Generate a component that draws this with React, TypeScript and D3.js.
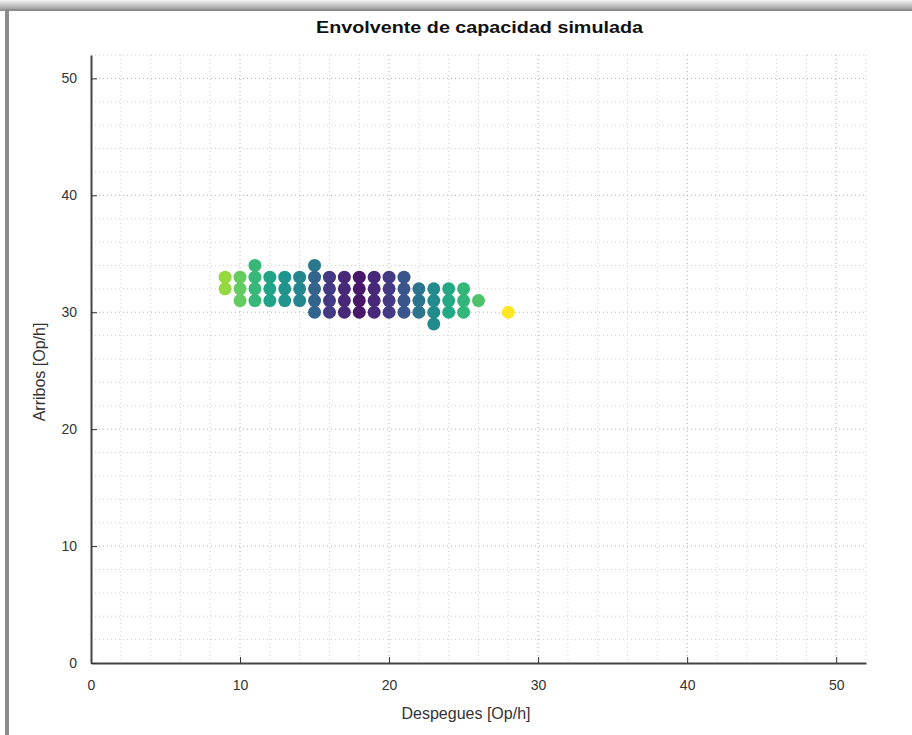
import { useRef, useEffect } from "react";
import * as d3 from "d3";

// Despegues (x), Arribos (y) and colour value for each simulated point
const despegues = [
  9, 9,
  10, 10, 10,
  11, 11, 11, 11,
  12, 12, 12,
  13, 13, 13,
  14, 14, 14,
  15, 15, 15, 15, 15,
  16, 16, 16, 16,
  17, 17, 17, 17,
  18, 18, 18, 18,
  19, 19, 19, 19,
  20, 20, 20, 20,
  21, 21, 21, 21,
  22, 22, 22,
  23, 23, 23, 23,
  24, 24, 24,
  25, 25, 25,
  26,
  28,
];
const arribos = [
  33, 32,
  33, 32, 31,
  34, 33, 32, 31,
  33, 32, 31,
  33, 32, 31,
  33, 32, 31,
  34, 33, 32, 31, 30,
  33, 32, 31, 30,
  33, 32, 31, 30,
  33, 32, 31, 30,
  33, 32, 31, 30,
  33, 32, 31, 30,
  33, 32, 31, 30,
  32, 31, 30,
  32, 31, 30, 29,
  32, 31, 30,
  32, 31, 30,
  31,
  30,
];
const valor = [
  0.84, 0.84,
  0.76, 0.76, 0.76,
  0.67, 0.67, 0.67, 0.67,
  0.58, 0.58, 0.58,
  0.52, 0.52, 0.52,
  0.46, 0.46, 0.46,
  0.4, 0.32, 0.32, 0.32, 0.32,
  0.17, 0.17, 0.17, 0.17,
  0.11, 0.11, 0.11, 0.11,
  0.06, 0.06, 0.06, 0.06,
  0.11, 0.11, 0.11, 0.11,
  0.17, 0.17, 0.17, 0.17,
  0.26, 0.26, 0.26, 0.26,
  0.38, 0.38, 0.38,
  0.48, 0.48, 0.48, 0.48,
  0.6, 0.6, 0.6,
  0.66, 0.66, 0.66,
  0.72,
  1.0,
];
const ticks = [0, 10, 20, 30, 40, 50];

const W = 912;
const H = 735;
const font = "'Liberation Sans', Arial, sans-serif";

export default function App() {
  const svgRef = useRef<SVGSVGElement>(null);

  useEffect(() => {
    if (!svgRef.current) return;
    const svg = d3.select(svgRef.current);
    svg.selectAll("*").remove();

    const margin = { top: 55, right: 46, bottom: 72, left: 91 };
    const innerW = W - margin.left - margin.right;
    const innerH = H - margin.top - margin.bottom;

    // window frame
    const defs = svg.append("defs");
    const grad = defs
      .append("linearGradient")
      .attr("id", "topframe")
      .attr("x1", 0)
      .attr("y1", 0)
      .attr("x2", 0)
      .attr("y2", 1);
    grad.append("stop").attr("offset", "0%").attr("stop-color", "#f4f4f4");
    grad.append("stop").attr("offset", "60%").attr("stop-color", "#b8b8b8");
    grad.append("stop").attr("offset", "100%").attr("stop-color", "#8a8a8a");
    svg.append("rect").attr("width", W).attr("height", H).attr("fill", "#fff");
    svg
      .append("rect")
      .attr("x", 0)
      .attr("y", 0)
      .attr("width", W)
      .attr("height", 11)
      .attr("fill", "url(#topframe)");
    svg
      .append("rect")
      .attr("x", 5)
      .attr("y", 9)
      .attr("width", 4)
      .attr("height", H)
      .attr("fill", "#8c8c8c");
    svg
      .append("rect")
      .attr("x", 5)
      .attr("y", 9)
      .attr("width", W)
      .attr("height", 2)
      .attr("fill", "#8c8c8c");

    const g = svg
      .append("g")
      .attr("transform", `translate(${margin.left},${margin.top})`);

    const x = d3.scaleLinear().domain([0, 52]).range([0, innerW]);
    const y = d3.scaleLinear().domain([0, 52]).range([innerH, 0]);

    // minor + major grid
    const gridVals = d3.range(2, 53, 2);
    g.append("g")
      .selectAll("line")
      .data(gridVals)
      .join("line")
      .attr("x1", (d) => x(d))
      .attr("x2", (d) => x(d))
      .attr("y1", 0)
      .attr("y2", innerH)
      .attr("stroke", (d) => (d % 10 === 0 ? "#b0b0b0" : "#cfcfcf"))
      .attr("stroke-width", 1)
      .attr("stroke-dasharray", "1,3");
    g.append("g")
      .selectAll("line")
      .data(gridVals)
      .join("line")
      .attr("x1", 0)
      .attr("x2", innerW)
      .attr("y1", (d) => y(d))
      .attr("y2", (d) => y(d))
      .attr("stroke", (d) => (d % 10 === 0 ? "#b0b0b0" : "#cfcfcf"))
      .attr("stroke-width", 1)
      .attr("stroke-dasharray", "1,3");

    // points
    g.append("g")
      .selectAll("circle")
      .data(despegues)
      .join("circle")
      .attr("cx", (d) => x(d))
      .attr("cy", (_, i) => y(arribos[i]))
      .attr("r", 6.5)
      .attr("fill", (_, i) => d3.interpolateViridis(valor[i]));

    // X axis
    g.append("g")
      .attr("transform", `translate(0,${innerH})`)
      .call(
        d3.axisBottom(x).tickValues(ticks).tickSize(-6).tickSizeOuter(0).tickPadding(17),
      )
      .call((a) => a.select(".domain").attr("stroke", "#444").attr("stroke-width", 2))
      .call((a) => a.selectAll(".tick line").attr("stroke", "#333"))
      .selectAll("text")
      .attr("fill", "#333")
      .attr("font-size", 14)
      .attr("font-family", font);

    // Y axis
    g.append("g")
      .call(
        d3.axisLeft(y).tickValues(ticks).tickSize(-6).tickSizeOuter(0).tickPadding(14),
      )
      .call((a) => a.select(".domain").attr("stroke", "#444").attr("stroke-width", 2))
      .call((a) => a.selectAll(".tick line").attr("stroke", "#333"))
      .selectAll("text")
      .attr("fill", "#333")
      .attr("font-size", 14)
      .attr("font-family", font);

    // title and labels
    svg
      .append("text")
      .attr("x", 316)
      .attr("y", 33)
      .attr("textLength", 327)
      .attr("lengthAdjust", "spacingAndGlyphs")
      .attr("font-family", font)
      .attr("font-weight", "bold")
      .attr("font-size", 17)
      .attr("fill", "#111")
      .text("Envolvente de capacidad simulada");
    svg
      .append("text")
      .attr("x", 466)
      .attr("y", 719)
      .attr("text-anchor", "middle")
      .attr("font-family", font)
      .attr("font-size", 16)
      .attr("fill", "#333")
      .text("Despegues [Op/h]");
    svg
      .append("text")
      .attr("transform", "translate(45,372) rotate(-90)")
      .attr("text-anchor", "middle")
      .attr("font-family", font)
      .attr("font-size", 16)
      .attr("fill", "#333")
      .text("Arribos [Op/h]");
  }, []);

  return (
    <svg
      ref={svgRef}
      width={W}
      height={H}
      style={{ position: "absolute", left: 0, top: 0, display: "block" }}
    />
  );
}
